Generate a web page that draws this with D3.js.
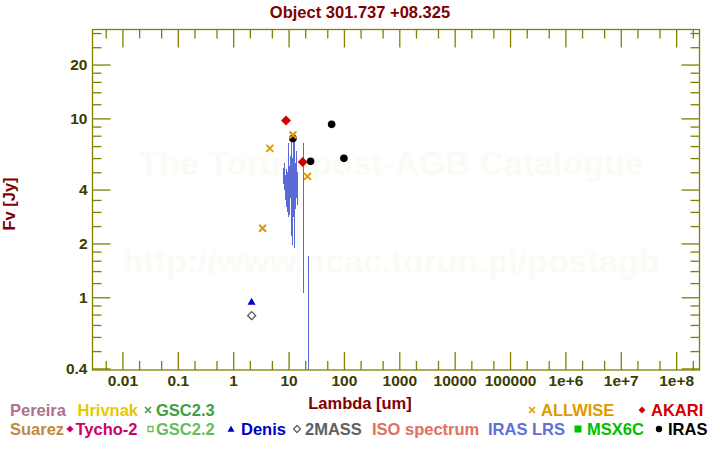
<!DOCTYPE html>
<html>
<head>
<meta charset="utf-8">
<script src="https://cdn.jsdelivr.net/npm/d3@7"></script>
<style>
body { margin: 0; background: #fff; }
svg text { font-family: "Liberation Sans", Arial, sans-serif; font-weight: bold; }
</style>
</head>
<body>
<script>
// ----- Data (wavelength in um, flux in Jy) -----
const ALLWISE = [[3.4, 2.43], [4.6, 6.80], [12, 8.07], [22, 4.74]];
const AKARI = [[9, 9.73], [18, 5.70]];
const IRAS = [[12, 7.73], [25, 5.75], [60, 9.26], [100, 5.98]];
const DENIS = [[2.15, 0.945]];
const TWOMASS = [[2.16, 0.789]];

// IRAS LRS spectrum, null = gap between pieces
const IRAS_LRS = [
    [7.90, 4.7], [7.97, 5.3], [8.05, 4.3], [8.12, 4.9], [8.20, 4.0], [8.28, 5.6], [8.36, 4.2], [8.45, 4.6],
    [8.55, 3.7], [8.65, 4.8], [8.75, 3.5], [8.85, 5.2], [8.95, 3.6], [9.05, 4.5], [9.15, 3.2], [9.25, 5.0],
    [9.35, 3.0], [9.45, 4.4], [9.55, 3.4], [9.60, 7.3], [9.66, 3.3], [9.78, 4.6], [9.90, 2.8], [10.0, 4.9],
    [10.12, 3.2], [10.25, 5.4], [10.38, 2.9], [10.5, 4.7], [10.62, 3.6], [10.75, 6.2], [10.85, 2.6], [10.95, 7.6],
    [11.05, 3.0], [11.15, 5.3], [11.3, 2.2], [11.4, 6.0], [11.45, 1.95], [11.55, 4.8], [11.7, 3.1], [11.8, 7.5],
    [11.9, 3.4], [12.05, 5.8], [12.2, 2.8], [12.35, 5.2], [12.5, 3.3], [12.62, 6.4], [12.7, 7.4], [12.72, 1.88],
    [12.85, 4.9], [13.0, 3.1], [13.15, 5.6], [13.3, 3.4], [13.45, 6.6], [13.6, 3.6], [13.8, 5.4], [14.0, 3.3],
    [14.2, 5.0], [14.35, 3.7], [14.5, 4.3],
    null,
    [18.6, 7.3], [18.62, 1.05],
    null,
    [22.0, 1.7], [22.03, 0.2]
];

const X_TICKS = [0.01, 0.1, 1, 10, 100, 1000, 1e4, 1e5, 1e6, 1e7, 1e8];
const X_TICK_LABELS = ["0.01", "0.1", "1", "10", "100", "1000", "10000", "100000", "1e+6", "1e+7", "1e+8"];
const Y_TICKS = [0.4, 1, 2, 4, 10, 20];
const Y_TICK_LABELS = ["0.4", "1", "2", "4", "10", "20"];
const Y_MINOR = [0.5, 0.6, 0.7, 0.8, 0.9, 1.2, 1.4, 1.6, 1.8, 2.5, 3, 3.5, 5, 6, 7, 8, 9, 12, 14, 16, 18, 25, 30];

// legend: label, colour, symbol
const LEGEND = [
    ["Pereira", "#b07090", null],
    ["Hrivnak", "#e8c800", null],
    ["GSC2.3", "#40a040", "x"],
    ["ALLWISE", "#e09a00", "x"],
    ["AKARI", "#d40000", "diamond"],
    ["Suarez", "#c08a40", null],
    ["Tycho-2", "#d0006a", "diamond"],
    ["GSC2.2", "#60c060", "opensquare"],
    ["Denis", "#0000c8", "triangle"],
    ["2MASS", "#606060", "opendiamond"],
    ["ISO spectrum", "#e07060", null],
    ["IRAS LRS", "#6070d8", null],
    ["MSX6C", "#00c000", "square"],
    ["IRAS", "#000000", "circle"]
];
// legend layout: text x, symbol x, row
const LEGEND_POS = [
    [10, 0, 0], [77.5, 0, 0], [156, 148, 0], [541, 532, 0], [651, 642, 0],
    [10, 0, 1], [75.5, 70, 1], [156, 150.5, 1], [241, 231, 1], [305, 297, 1],
    [372, 0, 1], [488, 0, 1], [587, 578, 1], [668, 659, 1]
];

// ----- Layout -----
const WIDTH = 720, HEIGHT = 450;
const LEFT = 92.5, RIGHT = 699.5, TOP = 29.5, BOTTOM = 370;
const AXIS_COLOR = "#808000";
const TICK_TEXT = "#3c3c00";
const TITLE_COLOR = "#800000";

const x = d3.scaleLog().domain([0.00288, 2.64e8]).range([LEFT, RIGHT]);
const y = d3.scaleLog().domain([0.392, 31.4]).range([BOTTOM, TOP]);

const xMinor = [];
for (let e = -3; e <= 8; e++) {
    [2, 5].forEach(m => {
        const v = m * Math.pow(10, e);
        if (v > x.domain()[0] && v < x.domain()[1]) xMinor.push(v);
    });
}

// marker shapes
function markerPath(type, s) {
    if (type === "x") return `M${-s},${-s}L${s},${s}M${-s},${s}L${s},${-s}`;
    if (type === "diamond" || type === "opendiamond") return `M0,${-s}L${s},0L0,${s}L${-s},0Z`;
    if (type === "triangle") return `M0,${-s}L${s},${s * 0.8}L${-s},${s * 0.8}Z`;
    if (type === "square" || type === "opensquare") return `M${-s},${-s}H${s}V${s}H${-s}Z`;
    if (type === "circle") return d3.symbol(d3.symbolCircle, Math.PI * s * s)();
    return "";
}
function styleMarker(sel, type, color, sw) {
    const open = type === "x" || type.startsWith("open");
    sel.attr("fill", open ? "none" : color)
        .attr("stroke", color)
        .attr("stroke-width", type === "x" ? sw : (open ? 1.3 : 0));
}

const svg = d3.select("body").append("svg")
    .attr("width", WIDTH)
    .attr("height", HEIGHT);

// ----- Watermark -----
const wm = svg.append("g").attr("fill", "#fcfaf5").attr("font-size", 34).attr("text-anchor", "middle");
wm.append("text").attr("x", 391).attr("y", 175).text("The Torun post-AGB Catalogue");
wm.append("text").attr("x", 391).attr("y", 273).text("http://www.ncac.torun.pl/postagb");

// ----- Axes -----
function styleAxis(g) {
    g.select(".domain").remove();
    g.selectAll(".tick line").attr("stroke", AXIS_COLOR).attr("stroke-width", 1.3);
    g.selectAll("text")
        .attr("fill", TICK_TEXT)
        .attr("font-size", 15.5)
        .attr("font-family", null);
    g.attr("font-family", null).attr("font-size", null);
}

svg.append("g").attr("transform", `translate(0,${BOTTOM})`)
    .call(d3.axisBottom(x).tickValues(X_TICKS).tickSizeInner(-18).tickSizeOuter(0).tickPadding(5)
        .tickFormat((d, i) => X_TICK_LABELS[i]))
    .call(styleAxis);
svg.append("g").attr("transform", `translate(0,${BOTTOM})`)
    .call(d3.axisBottom(x).tickValues(xMinor).tickSizeInner(-9).tickSizeOuter(0).tickFormat(""))
    .call(styleAxis);
svg.append("g").attr("transform", `translate(0,${TOP})`)
    .call(d3.axisTop(x).tickValues(X_TICKS).tickSizeInner(-18).tickSizeOuter(0).tickFormat(""))
    .call(styleAxis);
svg.append("g").attr("transform", `translate(0,${TOP})`)
    .call(d3.axisTop(x).tickValues(xMinor).tickSizeInner(-9).tickSizeOuter(0).tickFormat(""))
    .call(styleAxis);

svg.append("g").attr("transform", `translate(${LEFT},0)`)
    .call(d3.axisLeft(y).tickValues(Y_TICKS).tickSizeInner(-18).tickSizeOuter(0).tickPadding(5)
        .tickFormat((d, i) => Y_TICK_LABELS[i]))
    .call(styleAxis);
svg.append("g").attr("transform", `translate(${LEFT},0)`)
    .call(d3.axisLeft(y).tickValues(Y_MINOR).tickSizeInner(-9).tickSizeOuter(0).tickFormat(""))
    .call(styleAxis);
svg.append("g").attr("transform", `translate(${RIGHT},0)`)
    .call(d3.axisRight(y).tickValues(Y_TICKS).tickSizeInner(-18).tickSizeOuter(0).tickFormat(""))
    .call(styleAxis);
svg.append("g").attr("transform", `translate(${RIGHT},0)`)
    .call(d3.axisRight(y).tickValues(Y_MINOR).tickSizeInner(-9).tickSizeOuter(0).tickFormat(""))
    .call(styleAxis);

svg.append("rect")
    .attr("x", LEFT).attr("y", TOP)
    .attr("width", RIGHT - LEFT).attr("height", BOTTOM - TOP)
    .attr("fill", "none")
    .attr("stroke", AXIS_COLOR)
    .attr("stroke-width", 1.3);

// ----- Titles -----
svg.append("text").attr("x", 360).attr("y", 18).attr("text-anchor", "middle")
    .attr("fill", TITLE_COLOR).attr("font-size", 16.5).text("Object 301.737 +08.325");
svg.append("text").attr("x", 360).attr("y", 409).attr("text-anchor", "middle")
    .attr("fill", TITLE_COLOR).attr("font-size", 16.5).text("Lambda [um]");
svg.append("text").attr("transform", "translate(15,204) rotate(-90)").attr("text-anchor", "middle")
    .attr("fill", TITLE_COLOR).attr("font-size", 16.5).text("Fv [Jy]");

// ----- Data -----
svg.append("clipPath").attr("id", "plot-clip")
    .append("rect").attr("x", LEFT).attr("y", TOP).attr("width", RIGHT - LEFT).attr("height", BOTTOM - TOP);

const line = d3.line()
    .defined(d => d !== null)
    .x(d => Math.round(x(d[0])) + 0.5)
    .y(d => y(d[1]));

svg.append("path")
    .datum(IRAS_LRS)
    .attr("clip-path", "url(#plot-clip)")
    .attr("d", line)
    .attr("fill", "none")
    .attr("stroke", "#5b6bd6")
    .attr("stroke-width", 1)
    .attr("shape-rendering", "crispEdges");

function drawMarkers(data, type, color, size, sw) {
    svg.append("g").selectAll("path")
        .data(data)
        .enter()
        .append("path")
            .attr("transform", d => `translate(${x(d[0])},${y(d[1])})`)
            .attr("d", markerPath(type, size))
            .call(styleMarker, type, color, sw);
}

drawMarkers(TWOMASS, "opendiamond", "#555555", 4, 1.3);
drawMarkers(DENIS, "triangle", "#0000c8", 4, 0);
drawMarkers(IRAS.slice(0, 1), "circle", "#000000", 3.8, 0);
drawMarkers(ALLWISE, "x", "#e09a00", 3.5, 2);
drawMarkers(AKARI, "diamond", "#d40000", 5, 0);
drawMarkers(IRAS.slice(1), "circle", "#000000", 3.8, 0);

// ----- Legend -----
const ROW_Y = [416, 435];
const legend = svg.append("g").attr("id", "legend");
LEGEND.forEach((item, i) => {
    const [label, color, sym] = item;
    const [tx, sx, row] = LEGEND_POS[i];
    if (sym) {
        const size = sym === "circle" ? 3.2 : (sym === "x" ? 3 : (sym === "opensquare" ? 2.5 : 3.5));
        legend.append("path")
            .attr("transform", `translate(${sx},${ROW_Y[row] - 6})`)
            .attr("d", markerPath(sym, size))
            .call(styleMarker, sym, color, 1.6);
    }
    legend.append("text")
        .attr("x", tx)
        .attr("y", ROW_Y[row])
        .attr("fill", color)
        .attr("font-size", 16.5)
        .text(label);
});
</script>
</body>
</html>
